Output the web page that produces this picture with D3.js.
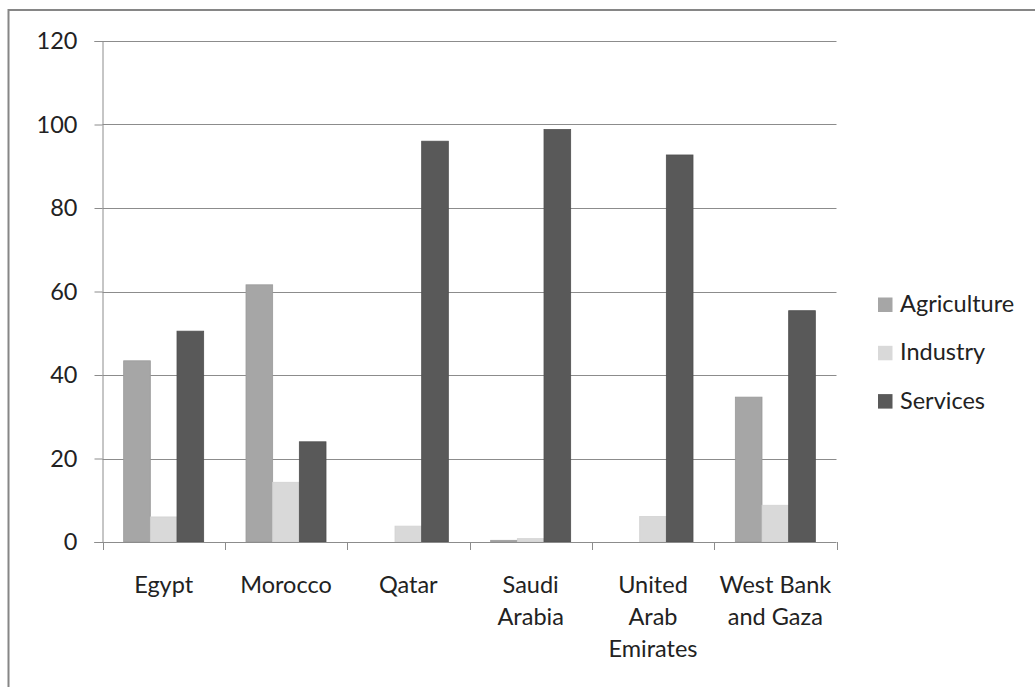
<!DOCTYPE html>
<html>
<head>
<meta charset="utf-8">
<script src="https://cdn.jsdelivr.net/npm/d3@7"></script>
<style>
  html, body { margin: 0; padding: 0; background: #fff; }
  svg { display: block; }
  text { font-family: Lato, "Open Sans", sans-serif; fill: #222; }
</style>
</head>
<body>
<svg id="chart" width="1035" height="687"></svg>
<script>
// Employment share by sector (%)
const countries = ["Egypt", "Morocco", "Qatar", "Saudi Arabia", "United Arab Emirates", "West Bank and Gaza"];
const countryLines = [["Egypt"], ["Morocco"], ["Qatar"], ["Saudi", "Arabia"], ["United", "Arab", "Emirates"], ["West Bank", "and Gaza"]];
const series = ["Agriculture", "Industry", "Services"];
const agriculture = [43.4, 61.6, 0, 0.4, 0, 34.7];
const industry = [6.0, 14.3, 3.8, 0.8, 6.1, 8.8];
const services = [50.5, 24.0, 96.0, 98.8, 92.7, 55.4];
const yTicks = [0, 20, 40, 60, 80, 100, 120];

const colors = { Agriculture: "#a6a6a6", Industry: "#d9d9d9", Services: "#595959" };
const edges = { Agriculture: "#9a9a9a", Industry: "#d2d2d2", Services: "#505050" };
const valuesBySeries = { Agriculture: agriculture, Industry: industry, Services: services };
const FONT_SIZE = 23.5;

const svg = d3.select("#chart");

// outer frame
svg.append("rect")
  .attr("x", 8.5).attr("y", 10)
  .attr("width", 1100).attr("height", 800)
  .attr("fill", "none").attr("stroke", "#868686").attr("stroke-width", 2);

const plot = { left: 102.5, right: 836.5, top: 41, bottom: 542 };

const y = d3.scaleLinear().domain([0, 120]).range([plot.bottom, plot.top]);
const x0 = d3.scaleBand().domain(countries)
  .range([plot.left, plot.right])
  .paddingInner(0.346).paddingOuter(0.173);
const x1 = d3.scaleBand().domain(series).range([0, x0.bandwidth()]);

// gridlines
svg.append("g")
  .selectAll("line")
  .data(yTicks.filter(d => d > 0))
  .join("line")
  .attr("x1", plot.left).attr("x2", plot.right)
  .attr("y1", d => Math.round(y(d)) + 0.5).attr("y2", d => Math.round(y(d)) + 0.5)
  .attr("stroke", "#8c8c8c").attr("stroke-width", 1);

// bars
const groups = svg.append("g")
  .selectAll("g")
  .data(countries)
  .join("g")
  .attr("transform", d => `translate(${x0(d)},0)`);

groups.selectAll("rect")
  .data((c, i) => series.map(s => ({ s, v: valuesBySeries[s][i] })))
  .join("rect")
  .attr("x", d => x1(d.s))
  .attr("width", x1.bandwidth())
  .attr("y", d => y(d.v))
  .attr("height", d => y(0) - y(d.v))
  .attr("fill", d => colors[d.s])
  .attr("stroke", d => edges[d.s])
  .attr("stroke-width", 0.8);

// y axis
const yAxis = svg.append("g")
  .attr("transform", `translate(${plot.left},0)`)
  .call(d3.axisLeft(y).tickValues(yTicks).tickSize(8).tickPadding(17));
yAxis.select(".domain").attr("stroke", "#8c8c8c");
yAxis.selectAll(".tick line").attr("stroke", "#8c8c8c");
yAxis.selectAll(".tick text")
  .attr("font-size", FONT_SIZE).attr("fill", "#222")
  .attr("font-family", "Lato, sans-serif");

// x axis line with category separators
const xAxis = svg.append("g");
xAxis.append("line")
  .attr("x1", plot.left - 8).attr("x2", plot.right)
  .attr("y1", plot.bottom + 0.5).attr("y2", plot.bottom + 0.5)
  .attr("stroke", "#8c8c8c");
const bounds = countries.map(c => x0(c) - x0.step() * x0.paddingOuter());
bounds.push(plot.right);
xAxis.selectAll("line.sep")
  .data(bounds)
  .join("line")
  .attr("class", "sep")
  .attr("x1", d => Math.round(d) + 0.5).attr("x2", d => Math.round(d) + 0.5)
  .attr("y1", plot.bottom).attr("y2", plot.bottom + 8)
  .attr("stroke", "#8c8c8c");

// category labels
const labels = svg.append("g")
  .selectAll("text")
  .data(countries)
  .join("text")
  .attr("text-anchor", "middle")
  .attr("font-size", FONT_SIZE)
  .attr("x", d => x0(d) + x0.bandwidth() / 2)
  .attr("y", 593);
labels.each(function(d, i) {
  const t = d3.select(this);
  countryLines[i].forEach((line, k) => {
    t.append("tspan")
      .attr("x", x0(d) + x0.bandwidth() / 2)
      .attr("dy", k === 0 ? 0 : 32)
      .text(line);
  });
});

// legend
const legend = svg.append("g")
  .selectAll("g")
  .data(series)
  .join("g")
  .attr("transform", (d, i) => `translate(878,${297.5 + i * 48.3})`);
legend.append("rect")
  .attr("width", 14.5).attr("height", 14.5)
  .attr("fill", d => colors[d]);
legend.append("text")
  .attr("x", 22).attr("y", 14.5)
  .attr("font-size", FONT_SIZE)
  .text(d => d);
</script>
</body>
</html>
